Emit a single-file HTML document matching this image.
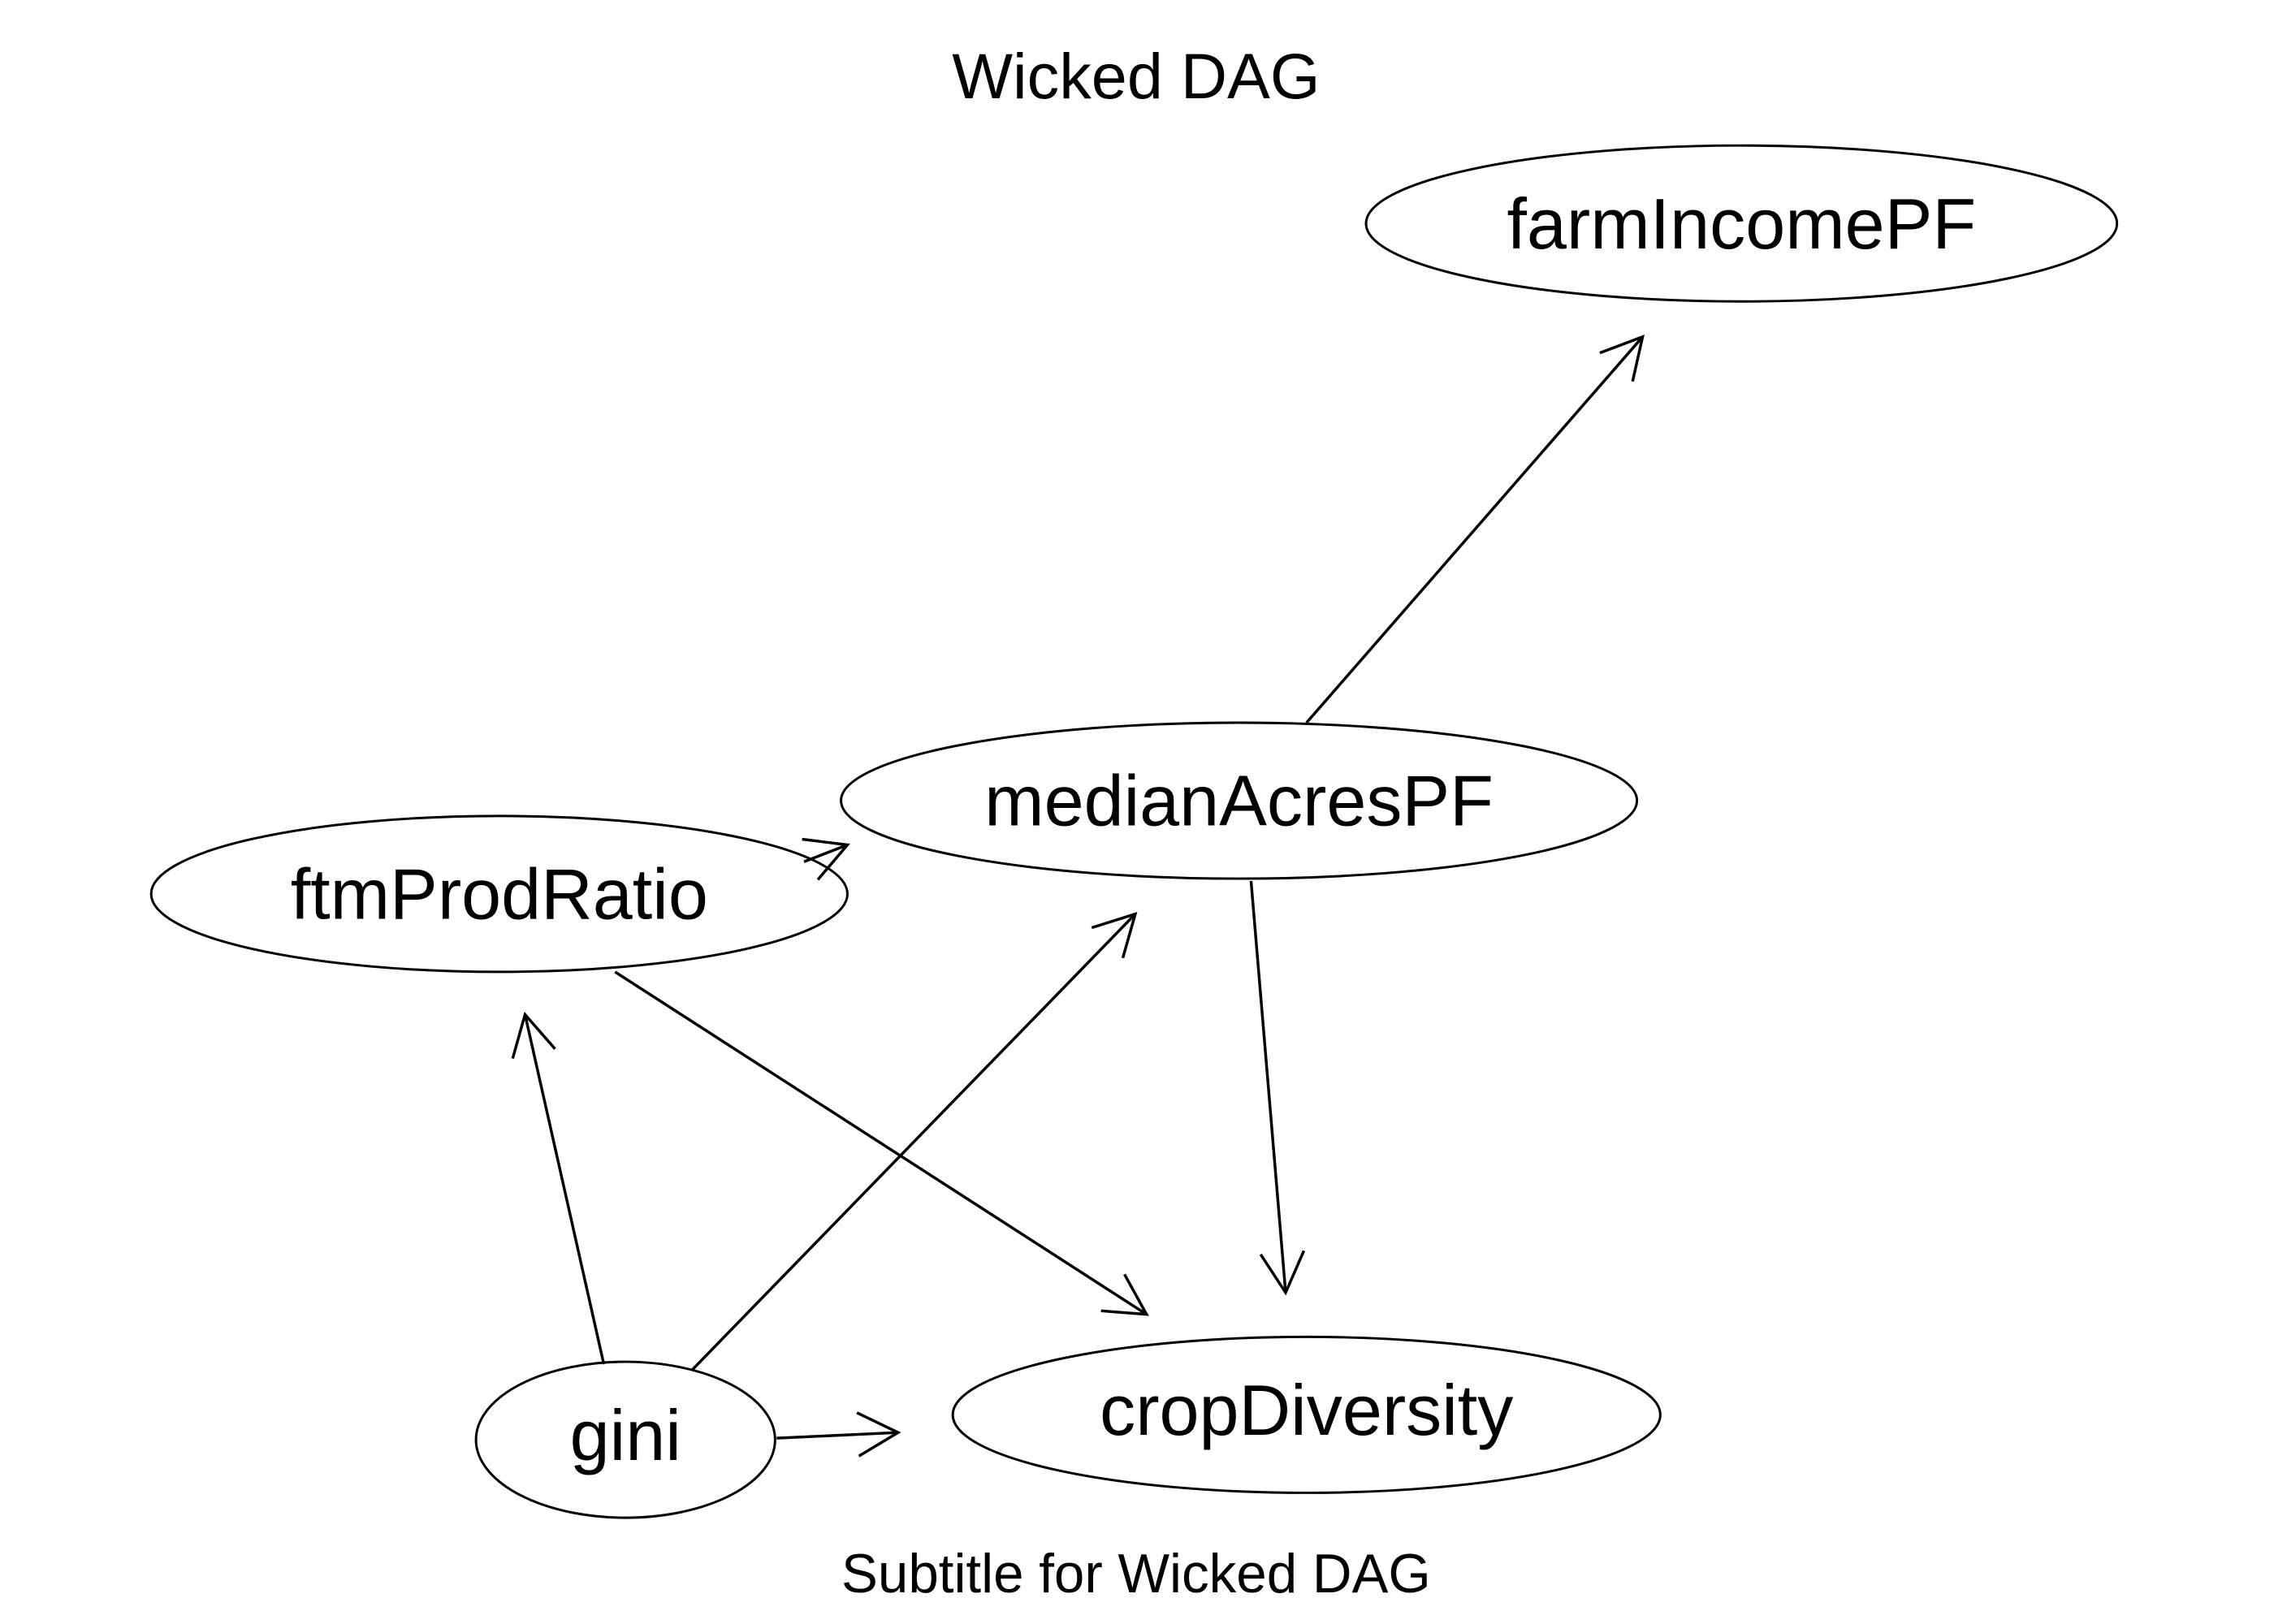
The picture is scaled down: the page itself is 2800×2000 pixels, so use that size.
<!DOCTYPE html>
<html><head><meta charset="utf-8"><style>
html,body{margin:0;padding:0;background:#fff;}
svg{display:block;}
text{font-family:"Liberation Sans",sans-serif;fill:#000;}
</style></head><body>
<svg width="2800" height="2000" viewBox="0 0 2800 2000" xmlns="http://www.w3.org/2000/svg">
<defs>
<marker id="a" markerUnits="userSpaceOnUse" markerWidth="80" markerHeight="80" refX="0" refY="0" viewBox="-60 -40 70 80" orient="auto">
<path d="M-50,-27 L0,0 L-50,27" fill="none" stroke="#000" stroke-width="3.5"/>
</marker>
</defs>
<rect width="2800" height="2000" fill="#fff"/>
<g transform="scale(0.99)">
<text x="1413" y="122" font-size="80" text-anchor="middle">Wicked DAG</text>
<g fill="none" stroke="#000" stroke-width="3">
<ellipse cx="2166" cy="278" rx="467" ry="97"/>
<ellipse cx="1541" cy="996" rx="495" ry="97"/>
<ellipse cx="621" cy="1112" rx="433" ry="97"/>
<ellipse cx="1625" cy="1760" rx="440" ry="97"/>
<ellipse cx="778" cy="1791" rx="186" ry="97"/>
</g>
<g stroke="#000" stroke-width="3.5" fill="none" marker-end="url(#a)">
<line x1="1625" y1="899" x2="2043" y2="419"/>
<line x1="1000" y1="1072" x2="1054" y2="1051"/>
<line x1="765" y1="1209" x2="1426" y2="1635"/>
<line x1="1556" y1="1096" x2="1599" y2="1608"/>
<line x1="751" y1="1697" x2="653" y2="1262"/>
<line x1="861" y1="1704" x2="1412" y2="1137"/>
<line x1="966" y1="1789" x2="1117" y2="1782"/>
</g>
<g font-size="89" text-anchor="middle">
<text x="2166" y="309">farmIncomePF</text>
<text x="1541" y="1027">medianAcresPF</text>
<text x="621" y="1143">ftmProdRatio</text>
<text x="1625" y="1785">cropDiversity</text>
<text x="778" y="1816">gini</text>
</g>
<text x="1413" y="1981" font-size="68" text-anchor="middle">Subtitle for Wicked DAG</text>
</g>
</svg>
</body></html>
